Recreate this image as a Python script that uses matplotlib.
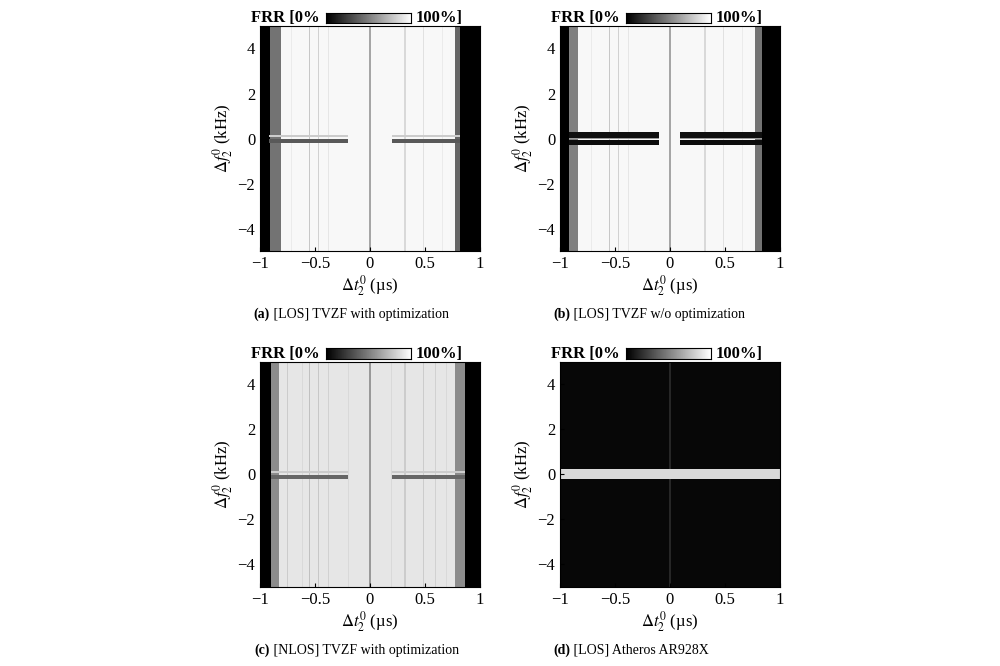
import numpy as np
import matplotlib.pyplot as plt

plt.rcParams['font.family'] = ['Liberation Serif', 'DejaVu Serif']
plt.rcParams['mathtext.fontset'] = 'stix'

# FRR levels (0..1): (t_start, t_end, level) segments along the delay axis
seg_a = [(-1, -0.91, 0.0), (-0.91, -0.82, 0.45), (-0.82, 0.78, 0.97), (0.78, 0.83, 0.4), (0.83, 1, 0.0)]
seg_b = [(-1, -0.92, 0.0), (-0.92, -0.84, 0.5), (-0.84, 0.78, 0.97), (0.78, 0.85, 0.45), (0.85, 1, 0.0)]
seg_c = [(-1, -0.9, 0.0), (-0.9, -0.83, 0.55), (-0.83, 0.78, 0.9), (0.78, 0.87, 0.55), (0.87, 1, 0.0)]
seg_d = [(-1, 1, 0.03)]
# thin vertical lines: (t, level)
lines_a = [(-0.72, 0.92), (-0.55, 0.78), (-0.47, 0.82), (-0.38, 0.9), (0.0, 0.65), (0.32, 0.85), (0.49, 0.88), (0.66, 0.92)]
lines_b = [(-0.72, 0.92), (-0.55, 0.78), (-0.47, 0.82), (-0.38, 0.9), (0.0, 0.65), (0.32, 0.85), (0.49, 0.88), (0.66, 0.92)]
lines_c = [(-0.75, 0.8), (-0.62, 0.85), (-0.55, 0.75), (-0.47, 0.78), (-0.38, 0.82), (-0.2, 0.85), (0.0, 0.6),
           (0.2, 0.85), (0.32, 0.8), (0.49, 0.8), (0.6, 0.82), (0.7, 0.85)]
lines_d = [(0.0, 0.15)]
# horizontal band around 0 kHz: (f_start, f_end, level) and the delay ranges it covers
band_a = [(-0.2, -0.05, 0.35), (0.05, 0.12, 0.8)]
band_b = [(-0.3, -0.08, 0.05), (-0.05, 0.0, 0.6), (0.02, 0.3, 0.06)]
band_c = [(-0.2, -0.05, 0.4), (0.05, 0.12, 0.8)]
band_d = [(-0.22, 0.22, 0.85)]
span_a = [(-0.92, -0.2), (0.2, 0.83)]
span_b = [(-0.92, -0.1), (0.1, 0.85)]
span_c = [(-0.9, -0.2), (0.2, 0.87)]
span_d = [(-1, 1)]

panels = [
    ("(a)", " [LOS] TVZF with optimization", seg_a, lines_a, band_a, span_a),
    ("(b)", " [LOS] TVZF w/o optimization", seg_b, lines_b, band_b, span_b),
    ("(c)", " [NLOS] TVZF with optimization", seg_c, lines_c, band_c, span_c),
    ("(d)", " [LOS] Atheros AR928X", seg_d, lines_d, band_d, span_d),
]

t = np.linspace(-1, 1, 201)
f = np.linspace(-5, 5, 401)


def build(seg, lines, band, span):
    col = np.zeros_like(t)
    for a, b, v in seg:
        col[(t >= a) & (t <= b)] = v
    for t0, v in lines:
        col[np.abs(t - t0) < 0.006] = v
    Z = np.tile(col, (len(f), 1))
    inspan = np.zeros_like(t, dtype=bool)
    for a, b in span:
        inspan |= (t >= a) & (t <= b)
    for fa, fb, v in band:
        rows = (f >= fa) & (f <= fb)
        Z[np.ix_(rows, inspan)] = v
    return Z


fig = plt.figure(figsize=(10, 6.66), dpi=100)
pos = [(0.26, 0.623), (0.56, 0.623), (0.26, 0.119), (0.56, 0.119)]
for (lab, cap, seg, lines, band, span), (x0, y0) in zip(panels, pos):
    ax = fig.add_axes([x0, y0, 0.22, 0.338])
    Z = build(seg, lines, band, span)
    ax.imshow(Z, cmap='gray', vmin=0, vmax=1, origin='lower', extent=[-1, 1, -5, 5],
              aspect='auto', interpolation='nearest')
    ax.set_xlim(-1, 1)
    ax.set_ylim(-5, 5)
    ax.set_xticks([-1, -0.5, 0, 0.5, 1])
    ax.set_xticklabels(['−1', '−0.5', '0', '0.5', '1'])
    ax.set_yticks([-4, -2, 0, 2, 4])
    ax.set_yticklabels(['−4', '−2', '0', '2', '4'])
    ax.tick_params(labelsize=12, direction='in', length=3)
    ax.set_xlabel(r'$\Delta t_2^0$ (µs)', fontsize=12, labelpad=1)
    ax.set_ylabel(r'$\Delta f_2^0$ (kHz)', fontsize=12, labelpad=2)
    # colorbar header
    ytop = y0 + 0.338
    fig.text(x0 + 0.06, ytop + 0.012, 'FRR [0%', ha='right', va='center', fontsize=12, fontweight='bold')
    cax = fig.add_axes([x0 + 0.066, ytop + 0.004, 0.085, 0.016])
    cax.imshow(np.linspace(0, 1, 100)[None, :], cmap='gray', aspect='auto')
    cax.set_xticks([]); cax.set_yticks([])
    fig.text(x0 + 0.156, ytop + 0.012, '100%]', ha='left', va='center', fontsize=12, fontweight='bold')
    cy = y0 - 0.095
    fig.text(x0 + 0.01, cy, lab, ha='right', va='center', fontsize=10, fontweight='bold')
    fig.text(x0 + 0.01, cy, cap, ha='left', va='center', fontsize=10)

fig.savefig('out.png', dpi=100)
